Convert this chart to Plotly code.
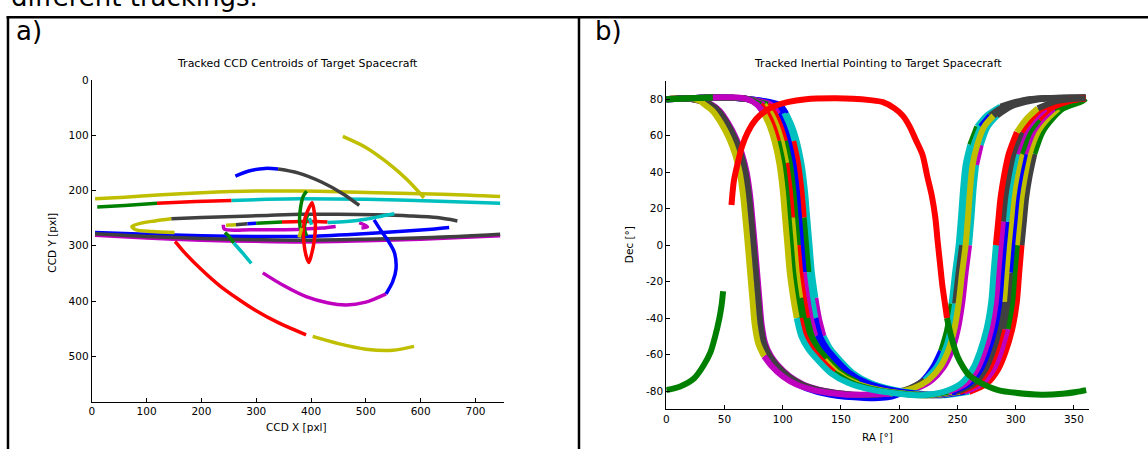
import plotly.graph_objects as go

W, H = 1148, 449
COL = {'b': '#0000FF', 'g': '#008000', 'r': '#FF0000', 'c': '#00BFBF',
       'm': '#BF00BF', 'y': '#BFBF00', 'k': '#404040'}

# ---------------- Panel a) : CCD centroids (x, y in pixels) ----------------
ccd_x_ticks = [0, 100, 200, 300, 400, 500, 600, 700]
ccd_y_ticks = [0, 100, 200, 300, 400, 500]

yel_top_x = [6, 60, 120, 200, 300, 380, 450, 520, 600, 680, 745]
yel_top_y = [215, 212, 208, 204, 201, 201, 202, 204, 206, 208, 211]
grn_mid_x = [10, 60, 119]
grn_mid_y = [230, 227, 223]
red_mid_x = [119, 190, 255]
red_mid_y = [223, 220, 218]
cyn_mid_x = [255, 320, 380, 500, 620, 745]
cyn_mid_y = [218, 216, 215, 216, 219, 223]
blu_arc_x = [262, 285, 316, 340]
blu_arc_y = [174, 165, 160, 161]
gry_arc_x = [340, 376, 420, 460, 488]
gry_arc_y = [161, 168, 185, 207, 227]
yel_diag_x = [458, 500, 540, 575, 606]
yel_diag_y = [102, 122, 150, 180, 213]
gry_250_x = [145, 200, 260, 320, 383, 450, 520, 580, 630, 667]
gry_250_y = [251, 249, 247, 245, 243, 243, 244, 246, 249, 255]
yel_loop_x = [145, 115, 90, 73, 80, 110, 151]
yel_loop_y = [251, 255, 259, 265, 271, 274, 276]
mag_low_x = [6, 100, 200, 300, 383, 500, 600, 745]
mag_low_y = [281, 286, 290, 292, 293, 291, 288, 282]
blu_long_x = [6, 100, 200, 300, 390, 480, 560, 620, 652]
blu_long_y = [276, 279, 282, 283, 283, 279, 274, 270, 267]
gry_long_x = [6, 100, 200, 300, 380, 500, 620, 745]
gry_long_y = [278, 283, 287, 289, 290, 288, 285, 279]
red_down_x = [152, 169, 200, 233, 265, 294, 342, 391]
red_down_y = [292, 312, 343, 372, 395, 414, 440, 461]
yel_bot_x = [403, 450, 500, 549, 588]
yel_bot_y = [464, 477, 487, 489, 482]
mag_arc_x = [312, 350, 391, 430, 464, 500, 537]
mag_arc_y = [349, 372, 392, 403, 407, 402, 387]
blu_loop_x = [537, 549, 555, 552, 540, 528, 515]
blu_loop_y = [387, 365, 342, 312, 290, 273, 253]
grn_short_x = [243, 252, 259]
grn_short_y = [276, 285, 295]
cyn_short_x = [259, 275, 291]
cyn_short_y = [295, 313, 332]
grn_loop_x = [392, 386, 381, 379, 382, 388]
grn_loop_y = [201, 210, 230, 255, 275, 290]
grn_loop2_x = [394, 390, 388, 392]
grn_loop2_y = [243, 255, 270, 282]
red_ell_x = [402, 406, 408, 406, 401, 396, 391, 387, 386, 389, 396, 402]
red_ell_y = [222, 240, 262, 290, 315, 330, 318, 295, 270, 250, 232, 222]
red_h_x = [347, 380, 410, 430]
red_h_y = [257, 256, 256, 257]
grn_h_x = [300, 347]
grn_h_y = [259, 257]
blu_h_x = [284, 300]
blu_h_y = [260, 259]
gry_h_x = [263, 284]
gry_h_y = [262, 260]
yel_h_x = [245, 263]
yel_h_y = [263, 262]
mag_h_x = [240, 242, 290, 340, 383, 420, 445]
mag_h_y = [262, 270, 271, 271, 270, 268, 265]
mag_hook_x = [488, 497, 503, 492]
mag_hook_y = [258, 262, 266, 268]
cyn_dot_x = [430, 465, 500, 530, 552]
cyn_dot_y = [258, 256, 252, 246, 242]
yel_c_x = [383, 380, 378]
yel_c_y = [268, 278, 285]
cyn_c_x = [397, 401]
cyn_c_y = [250, 262]

# ---------------- Panel b) : RA / Dec in degrees ----------------
ra_ticks = [0, 50, 100, 150, 200, 250, 300, 350]
dec_ticks = [-80, -60, -40, -20, 0, 20, 40, 60, 80]

A_dec = [80, 80.5, 79.3, 77, 73.5, 67, 58.5, 50, 40, 27, 14, 0, -15, -30, -44, -54, -61, -66, -72, -76.5,
         -80, -82, -81.5, -78.5, -74, -67, -58, -47, -32, -15, 0, 15, 32, 44, 55, 65, 71, 76, 80, 81]
AY_ra = [0, 15, 28, 33, 40, 47, 54, 59, 63, 66, 68, 70, 72, 74, 76, 79, 84, 90, 100, 112,
         130, 155, 192, 212, 225, 235, 242, 247, 251, 254, 257, 259, 261, 263, 267, 273, 281, 293, 317, 360]
AG_ra = [0, 15, 28, 38, 45, 52, 59, 64, 68, 71, 73, 75, 77, 79, 81, 84, 89, 95, 105, 117,
         135, 160, 189, 209, 222, 232, 239, 244, 248, 251, 254, 256, 258, 260, 264, 270, 278, 290, 314, 360]
AM_ra = [0, 15, 28, 39, 46, 53, 60, 65, 69, 72, 74, 76, 78, 80, 82, 85, 90, 96, 106, 118,
         136, 161, 195, 215, 228, 238, 245, 250, 254, 257, 260, 262, 264, 266, 270, 276, 284, 296, 320, 360]
AB_ra = [0, 15, 28, 36, 43, 50, 57, 62, 66, 69, 71, 73, 75, 77, 80, 83, 88, 95, 106, 120,
         140, 170, 190, 206, 219, 229, 236, 241, 245, 248, 251, 253, 255, 257, 261, 267, 275, 287, 311, 360]
AB_dec = [80, 80.5, 79.3, 77, 73.5, 67, 58.5, 50, 40, 27, 14, 0, -15, -30, -44, -54, -62, -68, -74, -78.5,
          -82, -83.8, -83.5, -80, -75, -67, -58, -47, -32, -15, 0, 15, 32, 44, 55, 65, 71, 76, 80, 81]

B_dec = [80, 81, 80.3, 77, 72, 65, 57, 45, 30, 15, 0, -15, -29, -40, -50, -57, -63, -70, -75.5, -79,
         -81.5, -82.3, -80.5, -76, -68, -59, -46, -31, -15, 0, 13, 26, 38, 50, 62, 69, 75, 79, 80.5]
B1_ra = [0, 40, 68, 78, 84, 89, 93, 97, 100, 102, 104, 106, 109, 112, 116, 122, 130, 141, 156, 174,
         200, 219, 238, 253, 263, 269, 275, 279, 281, 283, 285, 287, 290, 294, 301, 309, 319, 335, 360]
B2_ra = [0, 40, 68, 81, 87, 92, 96, 100, 103, 105, 107, 109, 112, 115, 119, 125, 133, 144, 159, 177,
         203, 223, 242, 257, 267, 273, 279, 283, 285, 287, 289, 291, 294, 298, 305, 313, 323, 339, 360]
B3_ra = [0, 40, 68, 84, 90, 95, 99, 103, 106, 108, 110, 112, 115, 118, 122, 128, 136, 147, 162, 180,
         206, 226, 245, 260, 270, 276, 282, 286, 288, 290, 292, 294, 297, 301, 308, 316, 326, 342, 360]
B4_ra = [0, 40, 68, 87, 93, 98, 102, 106, 109, 111, 113, 115, 118, 121, 125, 131, 139, 150, 165, 183,
         209, 229, 249, 264, 274, 280, 286, 290, 292, 294, 296, 298, 301, 305, 312, 320, 330, 346, 360]
B5_ra = [0, 40, 68, 90, 96, 101, 105, 109, 112, 114, 116, 118, 121, 124, 128, 134, 142, 153, 168, 186,
         212, 232, 252, 267, 277, 283, 289, 293, 295, 297, 299, 301, 304, 308, 315, 323, 333, 349, 360]
B6_ra = [0, 40, 68, 94, 100, 105, 109, 113, 116, 118, 120, 122, 125, 128, 132, 138, 146, 157, 172, 190,
         216, 236, 256, 271, 281, 287, 293, 297, 299, 301, 303, 305, 308, 312, 319, 327, 337, 353, 360]
B7_ra = [0, 40, 68, 97, 103, 108, 112, 116, 119, 121, 123, 125, 128, 131, 135, 141, 149, 160, 175, 193,
         219, 240, 260, 275, 285, 291, 297, 301, 303, 305, 307, 309, 312, 316, 323, 331, 341, 357, 360]

R_ra = [56, 58, 61, 65, 70, 77, 84, 92, 104, 120, 143, 160, 175, 186, 196, 203, 209, 214, 220, 224,
        228, 231, 233, 235, 237, 239, 241]
R_dec = [22, 35, 44, 54, 62, 69, 73, 76, 78.4, 80, 80.5, 80.3, 79.5, 78.4, 75, 71, 65, 58, 49.5, 38,
         27, 15, 2, -10, -22, -31, -40]
G1_ra = [241, 245, 250, 255, 260, 267, 274, 285, 300, 322, 340, 352, 360.5]
G1_dec = [-40, -51, -61, -67, -71.3, -74.5, -76.8, -79.5, -81, -82, -81.5, -80.5, -79.5]
G2_ra = [0, 12, 24, 32, 38, 42, 45.4, 47.5, 48.8]
G2_dec = [-79.5, -77.5, -73, -66, -58.7, -50, -40.7, -33, -25.3]

# colour changes along each tracked curve (start index, colour)
AY_col = [(0, 'y'), (16, 'm'), (22, 'y'), (36, 'k')]
AG_col = [(0, 'k'), (24, 'c'), (28, 'k'), (30, 'c'), (35, 'b'), (36, 'k')]
AM_col = [(0, 'm'), (30, 'c'), (33, 'm'), (34, 'c'), (36, 'k')]
AB_col = [(0, 'k'), (9, 'b'), (26, 'g'), (28, 'c'), (34, 'g'), (35, 'c'), (37, 'k')]
B1_col = [(0, 'g'), (1, 'm'), (4, 'y'), (13, 'c'), (29, 'r'), (34, 'y'), (36, 'k')]
B2_col = [(0, 'g'), (3, 'r'), (6, 'g'), (13, 'r'), (17, 'g'), (22, 'm'), (30, 'k'), (34, 'r')]
B3_col = [(0, 'm'), (3, 'y'), (7, 'r'), (9, 'y'), (12, 'g'), (16, 'y'), (22, 'b'), (30, 'c'), (33, 'm'), (36, 'r')]
B4_col = [(0, 'g'), (3, 'r'), (6, 'g'), (10, 'r'), (13, 'g'), (18, 'b'), (22, 'k'), (27, 'y'), (33, 'g'), (35, 'r')]
B5_col = [(0, 'm'), (4, 'b'), (11, 'm'), (14, 'b'), (20, 'y'), (22, 'r'), (26, 'k'), (28, 'b'), (33, 'm'), (36, 'g')]
B6_col = [(0, 'b'), (4, 'c'), (6, 'r'), (9, 'g'), (11, 'c'), (13, 'b'), (22, 'm'), (26, 'g'), (29, 'y'), (36, 'g')]
B7_col = [(0, 'b'), (4, 'c'), (12, 'm'), (14, 'c'), (22, 'r'), (29, 'k'), (33, 'g')]

fig = go.Figure()


def add_line(x, y, color, xa, ya, width):
    fig.add_trace(go.Scatter(x=x, y=y, mode='lines', xaxis=xa, yaxis=ya,
                             line=dict(color=COL[color], width=width, shape='spline', smoothing=0.8),
                             hoverinfo='skip', showlegend=False))


def add_curve(ra, dec, breaks, width=6):
    for i, (s, c) in enumerate(breaks):
        e = breaks[i + 1][0] if i + 1 < len(breaks) else len(ra) - 1
        add_line(ra[s:e + 1], dec[s:e + 1], c, 'x2', 'y2', width)


# panel a traces
LW = 3.5
for xs, ys, c in [
    (mag_low_x, mag_low_y, 'm'), (blu_long_x, blu_long_y, 'b'), (gry_long_x, gry_long_y, 'k'),
    (yel_top_x, yel_top_y, 'y'), (grn_mid_x, grn_mid_y, 'g'), (red_mid_x, red_mid_y, 'r'),
    (cyn_mid_x, cyn_mid_y, 'c'), (blu_arc_x, blu_arc_y, 'b'), (gry_arc_x, gry_arc_y, 'k'),
    (yel_diag_x, yel_diag_y, 'y'), (gry_250_x, gry_250_y, 'k'), (yel_loop_x, yel_loop_y, 'y'),
    (red_down_x, red_down_y, 'r'), (yel_bot_x, yel_bot_y, 'y'), (mag_arc_x, mag_arc_y, 'm'),
    (blu_loop_x, blu_loop_y, 'b'), (grn_short_x, grn_short_y, 'g'), (cyn_short_x, cyn_short_y, 'c'),
    (mag_h_x, mag_h_y, 'm'), (yel_h_x, yel_h_y, 'y'), (gry_h_x, gry_h_y, 'k'), (blu_h_x, blu_h_y, 'b'),
    (grn_h_x, grn_h_y, 'g'), (red_h_x, red_h_y, 'r'), (mag_hook_x, mag_hook_y, 'm'),
    (cyn_dot_x, cyn_dot_y, 'c'), (grn_loop_x, grn_loop_y, 'g'), (grn_loop2_x, grn_loop2_y, 'g'),
    (red_ell_x, red_ell_y, 'r'), (yel_c_x, yel_c_y, 'y'), (cyn_c_x, cyn_c_y, 'c'),
]:
    add_line(xs, ys, c, 'x', 'y', LW)

# panel b traces
add_curve(AM_ra, A_dec, AM_col)
add_curve(AB_ra, AB_dec, AB_col)
add_curve(AG_ra, A_dec, AG_col)
add_curve(AY_ra, A_dec, AY_col)
add_curve(B7_ra, B_dec, B7_col)
add_curve(B6_ra, B_dec, B6_col)
add_curve(B5_ra, B_dec, B5_col)
add_curve(B4_ra, B_dec, B4_col)
add_curve(B3_ra, B_dec, B3_col)
add_curve(B2_ra, B_dec, B2_col)
add_curve(B1_ra, B_dec, B1_col)
add_line(R_ra, R_dec, 'r', 'x2', 'y2', 6)
add_line(G1_ra, G1_dec, 'g', 'x2', 'y2', 6)
add_line(G2_ra, G2_dec, 'g', 'x2', 'y2', 6)


def px(x):
    return x / W


def py(y):
    return 1 - y / H


FONT = 'DejaVu Sans, Arial, sans-serif'
ax = dict(showgrid=False, zeroline=False, showline=True, linecolor='black', linewidth=1,
          ticks='inside', ticklen=4, tickcolor='black', tickwidth=1,
          tickfont=dict(family=FONT, size=10.5, color='black'), mirror=False)

fig.update_layout(
    width=W, height=H, margin=dict(l=0, r=0, t=0, b=0),
    paper_bgcolor='white', plot_bgcolor='white', showlegend=False,
    font=dict(family=FONT, size=11, color='black'),
    xaxis=dict(domain=[px(89), px(502.3)], range=[0, 752], anchor='y',
               tickvals=ccd_x_ticks, ticktext=[str(v) for v in ccd_x_ticks], **ax),
    yaxis=dict(domain=[py(401), py(75)], range=[582, 0], anchor='x',
               tickvals=ccd_y_ticks, ticktext=[str(v) for v in ccd_y_ticks], **ax),
    xaxis2=dict(domain=[px(665), px(1088.7)], range=[0, 362.8], anchor='y2',
                tickvals=ra_ticks, ticktext=[str(v) for v in ra_ticks], **ax),
    yaxis2=dict(domain=[py(408.7), py(76)], range=[-90, 90], anchor='x2',
                tickvals=dec_ticks, ticktext=[str(v) for v in dec_ticks], **ax),
)


def note(text, x, y, size, xanchor='center', yanchor='middle', angle=0):
    fig.add_annotation(text=text, x=px(x), y=py(y), xref='paper', yref='paper',
                       xanchor=xanchor, yanchor=yanchor, showarrow=False, textangle=angle,
                       font=dict(family=FONT, size=size, color='black'))


note('different trackings.', 6, -9, 26, xanchor='left')
note('a)', 11, 25, 26, xanchor='left')
note('b)', 592, 25, 26, xanchor='left')
note('Tracked CCD Centroids of Target Spacecraft', 295, 58, 11)
note('Tracked Inertial Pointing to Target Spacecraft', 877, 58, 11)
note('CCD X [pxl]', 294, 427, 10.5)
note('CCD Y [pxl]', 49, 240, 10.5, angle=-90)
note('RA [°]', 877, 437, 10.5)
note('Dec [°]', 627, 242, 10.5, angle=-90)

for x0, y0, x1, y1 in [(3.5, 11.5, 1148, 11.5), (5, 11.5, 5, 449), (577.5, 11.5, 577.5, 449)]:
    fig.add_shape(type='line', xref='paper', yref='paper', x0=px(x0), y0=py(y0), x1=px(x1), y1=py(y1),
                  line=dict(color='black', width=2.5))

fig.write_html('out.html')
